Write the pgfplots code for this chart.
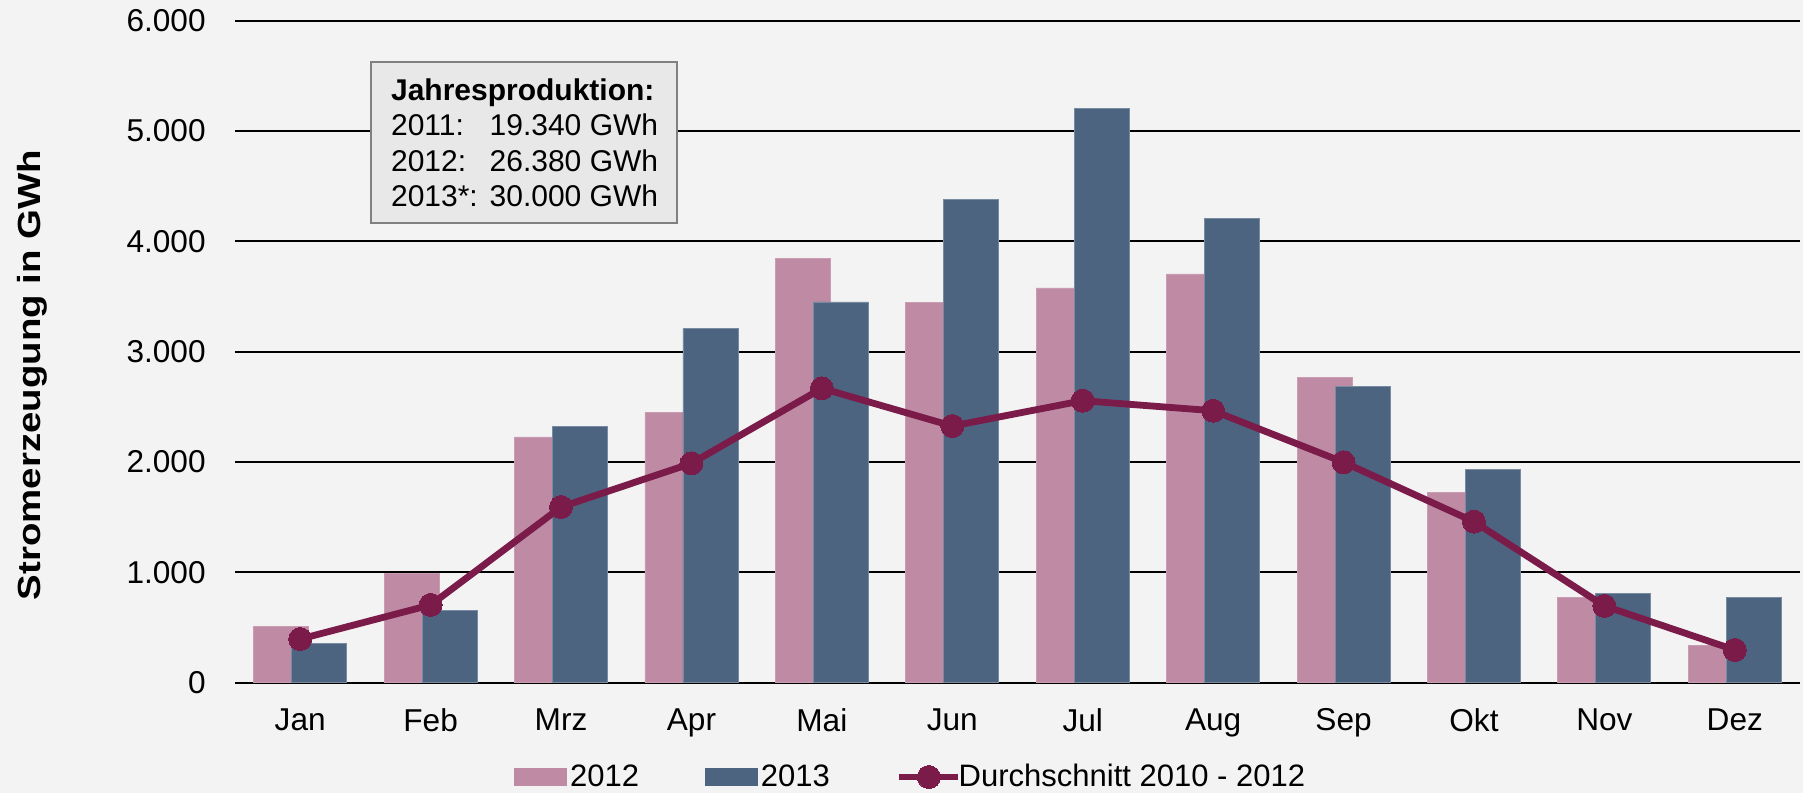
\documentclass[border=0pt]{standalone}
\usepackage{pgfplots}
\pgfplotsset{compat=1.18}
\usepackage{fontspec}
\setmainfont{Liberation Sans}
\definecolor{bgc}{HTML}{F3F3F3}
\definecolor{pinkc}{HTML}{BF8BA4}
\definecolor{bluec}{HTML}{4D6480}
\definecolor{linec}{HTML}{7B1B4A}
\definecolor{boxc}{HTML}{E8E8E8}
\definecolor{boxb}{HTML}{808080}
\pgfplotsset{
  pinkleg/.style={legend image code/.code={\fill[pinkc] (0pt,-4.25pt) rectangle (26pt,4.25pt);}},
  blueleg/.style={legend image code/.code={\fill[bluec] (0pt,-4.25pt) rectangle (26pt,4.25pt);}},
  lineleg/.style={legend image code/.code={\draw[mark repeat=2, mark phase=2, ##1] plot coordinates {(0pt,0pt) (14.75pt,0pt) (29.5pt,0pt)};}},
}
\begin{document}
\begin{tikzpicture}
\fill[bgc] (-117.5pt,-55.25pt) rectangle ++(901.5pt,396.5pt);
\path[use as bounding box] (-117.5pt,-55.25pt) rectangle ++(901.5pt,396.5pt);
\begin{axis}[
  at={(0,0)}, anchor=south west,
  width=782.5pt, height=330.9pt, scale only axis,
  xmin=-0.5, xmax=11.5, ymin=0, ymax=6000,
  xtick={0,...,11},
  xticklabels={Jan,Feb,Mrz,Apr,Mai,Jun,Jul,Aug,Sep,Okt,Nov,Dez},
  ytick={0,1000,2000,3000,4000,5000,6000},
  yticklabels={0,1.000,2.000,3.000,4.000,5.000,6.000},
  major tick length=0pt,
  axis line style={draw=none},
  ymajorgrids, grid style={black, line width=1pt},
  ticklabel style={font=\fontsize{15.8}{18}\selectfont},
  yticklabel style={inner sep=0pt, anchor=east, xshift=-14.5pt},
  xticklabel style={inner sep=0pt, anchor=north, yshift=-12.75pt},
  clip=false,
  legend columns=3,
  legend style={at={(0,0)}, anchor=west, xshift=139.5pt, yshift=-47.25pt,
    draw=none, fill=none, inner sep=0pt,
    font=\fontsize{15.5}{18}\selectfont,
    nodes={inner sep=1.5pt},
    /tikz/every even column/.append style={column sep=31.5pt}},
]
\addplot[ybar, bar width=27.5pt, bar shift=-9.5pt, fill=pinkc, draw=pinkc!85!white, line width=0.4pt, pinkleg]
coordinates {(0,512) (1,990) (2,2226) (3,2450) (4,3842) (5,3443) (6,3577) (7,3704) (8,2768) (9,1721) (10,775) (11,334)};
\addlegendentry{2012}
\addplot[ybar, bar width=27.5pt, bar shift=9.5pt, fill=bluec, draw=bluec!75!white, line width=0.4pt, blueleg]
coordinates {(0,352) (1,657) (2,2319) (3,3206) (4,3450) (5,4380) (6,5207) (7,4209) (8,2685) (9,1933) (10,809) (11,772)};
\addlegendentry{2013}
\addplot[color=linec, line width=3.4pt, mark=*, mark size=5.75pt, mark options={fill=linec, draw=linec, line width=0pt}, lineleg]
coordinates {(0,394) (1,703) (2,1591) (3,1987) (4,2667) (5,2325) (6,2555) (7,2464) (8,1997) (9,1458) (10,694) (11,295)};
\addlegendentry{\hspace{-3pt}Durchschnitt 2010 - 2012}
\end{axis}
\node[rotate=90, font=\bfseries\fontsize{16}{19}\selectfont, inner sep=0pt] at (-101.5pt,153.75pt) {\scalebox{1.2}[1]{Stromerzeugung in GWh}};
\draw[fill=boxc, draw=boxb, line width=1pt] (67.85pt,310.1pt) rectangle ++(153.3pt,-80.5pt);
\begin{scope}[every node/.style={anchor=base west, inner sep=0pt, font=\fontsize{15}{18}\selectfont}]
\node at (77.85pt,291.2pt) {\textbf{Jahresproduktion:}};
\node at (77.85pt,273.45pt) {\makebox[49.3pt][l]{2011:}19.340 GWh};
\node at (77.85pt,255.7pt) {\makebox[49.3pt][l]{2012:}26.380 GWh};
\node at (77.85pt,237.95pt) {\makebox[49.3pt][l]{2013*:}30.000 GWh};
\end{scope}
\end{tikzpicture}
\end{document}
